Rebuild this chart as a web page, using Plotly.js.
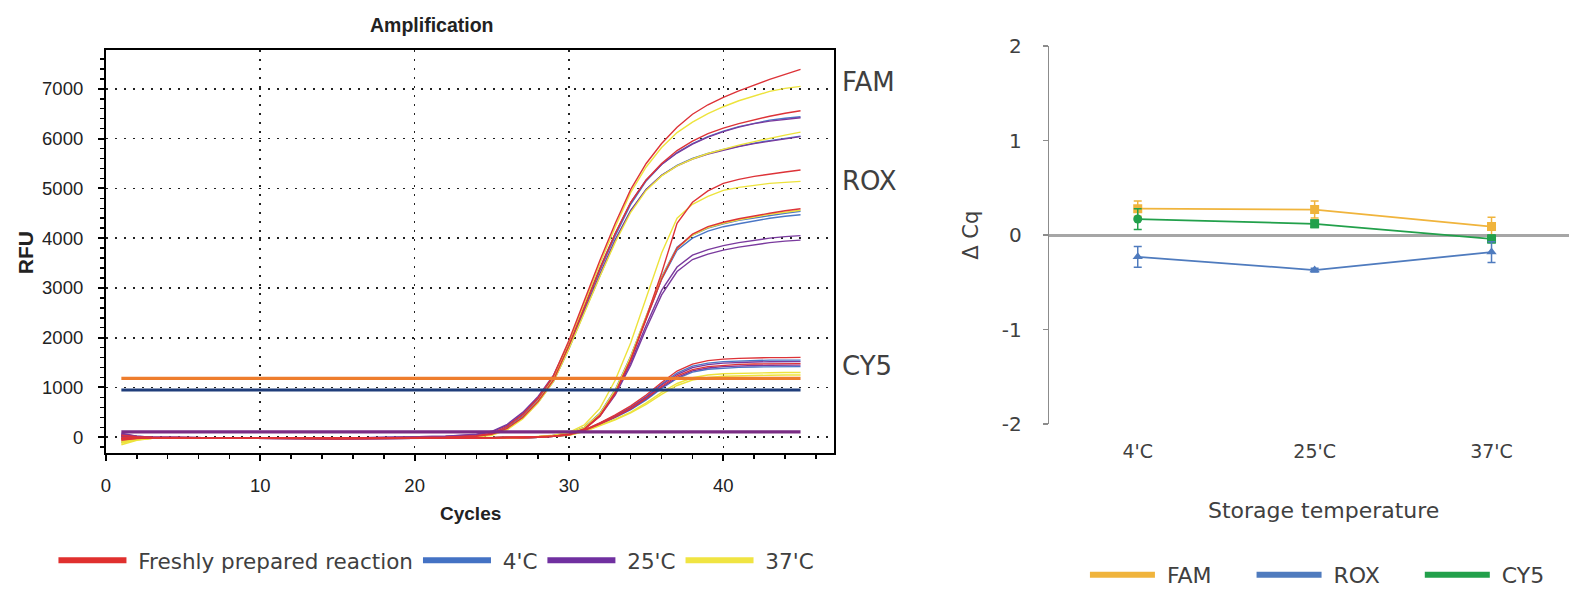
<!DOCTYPE html>
<html>
<head>
<meta charset="utf-8">
<script src="https://cdn.plot.ly/plotly-3.0.1.min.js"></script>
<style>
html,body{margin:0;padding:0;background:#fff;}
#chart{width:1585px;height:596px;}
</style>
</head>
<body>
<div id="chart"></div>
<script>
// ---------- Amplification plot data ----------
const CYCLES = [1,2,3,5,10,15,20,22,24,25,26,27,28,29,30,31,32,33,34,35,36,37,38,39,40,41,42,43,44,45];
const CONDITIONS = ["Freshly prepared reaction", "4'C", "25'C", "37'C"];

// FAM
const FAM_FRESH_1 = [-60,-20,-10,-10,-20,-20,-10,0,30,80,220,460,790,1240,1950,2750,3550,4300,4980,5500,5900,6230,6490,6680,6830,6960,7080,7190,7290,7390];
const FAM_FRESH_2 = [40,10,0,-10,-20,-20,-10,0,20,60,180,400,720,1150,1850,2620,3380,4100,4720,5170,5500,5760,5950,6100,6210,6300,6380,6450,6510,6560];
const FAM_4C_1 = [-100,-30,-10,-10,-20,-20,-10,0,25,70,200,430,740,1170,1850,2600,3350,4050,4680,5150,5480,5720,5900,6040,6150,6240,6310,6370,6410,6440];
const FAM_4C_2 = [20,0,-10,-10,-20,-20,-10,0,20,60,170,390,700,1120,1780,2520,3250,3950,4550,4980,5260,5460,5600,5700,5780,5850,5910,5960,6010,6050];
const FAM_25C_1 = [80,20,0,-10,-20,-20,0,20,60,120,260,500,820,1250,1900,2650,3400,4100,4720,5170,5480,5710,5890,6030,6140,6230,6300,6350,6390,6420];
const FAM_25C_2 = [60,20,0,-10,-20,-20,0,20,50,110,240,470,780,1200,1820,2550,3280,3970,4560,4980,5260,5450,5590,5690,5770,5840,5900,5950,6000,6040];
const FAM_37C_1 = [-150,-60,-20,-20,-30,-30,-20,-10,10,50,170,400,730,1180,1880,2680,3480,4230,4920,5430,5820,6120,6330,6500,6640,6760,6860,6950,7010,7050];
const FAM_37C_2 = [-120,-50,-20,-20,-30,-30,-20,-10,10,40,150,370,690,1120,1780,2500,3230,3920,4520,4960,5250,5450,5590,5700,5790,5870,5940,6010,6070,6130];

// ROX
const ROX_FRESH_1 = [-40,-20,-10,-10,-20,-30,-20,-20,-20,-20,-20,-10,0,20,60,160,420,880,1560,2400,3300,4300,4720,4950,5100,5180,5240,5290,5330,5370];
const ROX_FRESH_2 = [-30,-20,-10,-10,-20,-30,-20,-20,-20,-20,-20,-10,0,20,60,170,440,900,1560,2380,3180,3800,4080,4230,4320,4390,4450,4500,4550,4590];
const ROX_4C_1 = [-20,-10,-10,-10,-20,-30,-20,-20,-20,-20,-20,-10,0,30,80,200,480,960,1630,2440,3220,3820,4060,4200,4290,4360,4410,4460,4500,4540];
const ROX_4C_2 = [10,0,-10,-10,-20,-30,-20,-20,-20,-20,-20,-10,0,30,80,200,470,940,1600,2400,3170,3760,4000,4140,4230,4290,4350,4400,4440,4470];
const ROX_25C_1 = [30,10,0,-10,-20,-30,-20,-20,-20,-20,-20,-10,0,30,70,180,440,880,1500,2250,2950,3420,3660,3770,3850,3910,3960,4000,4030,4050];
const ROX_25C_2 = [50,10,0,-10,-20,-30,-20,-20,-20,-20,-20,-10,0,30,70,170,420,850,1450,2180,2860,3330,3570,3680,3760,3820,3870,3910,3940,3960];
const ROX_37C_1 = [-100,-40,-20,-20,-30,-30,-20,-20,-20,-20,-20,-10,10,40,100,250,580,1150,1900,2780,3700,4400,4680,4840,4960,5020,5060,5100,5120,5140];
const ROX_37C_2 = [-80,-30,-20,-20,-30,-30,-20,-20,-20,-20,-20,-10,0,30,80,200,470,950,1620,2430,3200,3800,4060,4210,4300,4370,4430,4480,4520,4560];

// CY5
const CY5_FRESH_1 = [-20,-10,-10,-10,-20,-20,-20,-20,-10,-10,0,0,10,20,50,150,290,450,630,850,1100,1330,1470,1540,1570,1585,1595,1600,1600,1605];
const CY5_FRESH_2 = [0,-10,-10,-10,-20,-20,-20,-20,-10,-10,0,0,10,20,50,135,265,415,580,785,1020,1230,1360,1420,1450,1465,1472,1478,1480,1480];
const CY5_4C_1 = [-30,-20,-10,-10,-20,-20,-20,-20,-10,-10,0,0,10,20,50,140,280,430,600,820,1070,1290,1430,1490,1520,1535,1545,1550,1550,1550];
const CY5_4C_2 = [10,0,-10,-10,-20,-20,-20,-20,-10,-10,0,0,10,20,45,130,255,400,555,750,980,1180,1310,1365,1390,1405,1412,1418,1420,1420];
const CY5_25C_1 = [40,10,0,-10,-20,-20,-20,-20,-10,-10,0,0,10,20,50,140,275,425,595,805,1050,1260,1400,1460,1490,1505,1512,1518,1520,1520];
const CY5_25C_2 = [20,0,-10,-10,-20,-20,-20,-20,-10,-10,0,0,10,20,45,130,260,405,565,770,1000,1200,1335,1390,1420,1435,1442,1448,1450,1450];
const CY5_37C_1 = [-60,-30,-20,-20,-30,-30,-20,-20,-10,-10,0,0,10,20,45,120,235,365,505,690,900,1080,1195,1250,1275,1287,1293,1297,1300,1300];
const CY5_37C_2 = [-40,-20,-20,-20,-30,-30,-20,-20,-10,-10,0,0,10,20,40,115,225,350,490,660,860,1040,1150,1200,1225,1237,1243,1247,1250,1250];

// thresholds
const THRESHOLD_CYCLES = [1, 45];
const THRESHOLD_FAM = 1185;
const THRESHOLD_ROX = 950;
const THRESHOLD_CY5 = 110;
const DYE_LABELS = ["FAM", "ROX", "CY5"];
const DYE_LABEL_RFU = [7130, 5140, 1440];

// ---------- ΔCq plot data ----------
const TEMPS = ["4'C", "25'C", "37'C"];
const FAM_DCQ = [0.28, 0.27, 0.09];
const FAM_ERR = [0.08, 0.09, 0.10];
const ROX_DCQ = [-0.23, -0.37, -0.18];
const ROX_ERR = [0.11, 0.02, 0.11];
const CY5_DCQ = [0.17, 0.12, -0.04];
const CY5_ERR = [0.11, 0.04, 0.04];
const DCQ_TICKS = [-2, -1, 0, 1, 2];
const DCQ_TICK_TEXT = ["-2", "-1", "0", "1", "2"];

// ---------- styles ----------
const COND_COLORS = {fresh:'#DD3338', c4:'#4A76C6', c25:'#7A3A9E', c37:'#EDE33C'};
const LEG_COLORS = ['#E0302E', '#4472C4', '#7030A0', '#F0E442'];
const DYE_COLORS = {FAM:'#F0B43C', ROX:'#4F7BBE', CY5:'#22A04B'};
const NB = '\u00A0';

const traces = [];
function curve(y, color) {
  traces.push({x: CYCLES, y: y, type:'scatter', mode:'lines', line:{color: color, width:1.4},
    xaxis:'x', yaxis:'y', showlegend:false, hoverinfo:'skip'});
}
const groups = [
  [[FAM_4C_1, FAM_4C_2, ROX_4C_1, ROX_4C_2, CY5_4C_1, CY5_4C_2], COND_COLORS.c4],
  [[FAM_25C_1, FAM_25C_2, ROX_25C_1, ROX_25C_2, CY5_25C_1, CY5_25C_2], COND_COLORS.c25],
  [[FAM_37C_1, FAM_37C_2, ROX_37C_1, ROX_37C_2, CY5_37C_1, CY5_37C_2], COND_COLORS.c37],
  [[FAM_FRESH_1, FAM_FRESH_2, ROX_FRESH_1, ROX_FRESH_2, CY5_FRESH_1, CY5_FRESH_2], COND_COLORS.fresh]
];
groups.forEach(g => g[0].forEach(arr => curve(arr, g[1])));

// threshold lines
[[THRESHOLD_CY5,'#7A2C84'],[THRESHOLD_ROX,'#1F3D7A'],[THRESHOLD_FAM,'#EE7D2D']].forEach(t => {
  traces.push({x: THRESHOLD_CYCLES, y:[t[0], t[0]], type:'scatter', mode:'lines',
    line:{color:t[1], width:3.2}, xaxis:'x', yaxis:'y', showlegend:false, hoverinfo:'skip'});
});

// left legend entries
CONDITIONS.forEach((name, i) => {
  traces.push({x:[null], y:[null], type:'scatter', mode:'lines', name: NB + name,
    line:{color: LEG_COLORS[i], width:6}, xaxis:'x', yaxis:'y', legend:'legend', showlegend:true});
});

// right chart
[[FAM_DCQ, FAM_ERR, 'FAM', 'square'], [CY5_DCQ, CY5_ERR, 'CY5', ['circle','square','square']], [ROX_DCQ, ROX_ERR, 'ROX', 'triangle-up']].forEach(s => {
  const c = DYE_COLORS[s[2]];
  traces.push({x: TEMPS, y: s[0], type:'scatter', mode:'lines+markers', name: s[2],
    line:{color:c, width:1.8}, marker:{color:c, size:9, symbol:s[3]},
    error_y:{type:'data', array:s[1], visible:true, color:c, thickness:1.5, width:4},
    xaxis:'x2', yaxis:'y2', showlegend:false, hoverinfo:'skip'});
});
DYE_LABELS.forEach(n => {
  traces.push({x:[null], y:[null], type:'scatter', mode:'lines', name: NB + n + NB.repeat(5),
    line:{color:DYE_COLORS[n], width:6}, xaxis:'x2', yaxis:'y2', legend:'legend2', showlegend:true});
});

const W = 1585, H = 596;
const px = v => v / W, py = v => 1 - v / H;
const LEFT_FONT = 'Liberation Sans, Arial, sans-serif';
const RIGHT_FONT = 'DejaVu Sans, sans-serif';

const xRange = [0, 47.2], yRange = [-324, 7770];
const commonX = {domain:[px(107), px(843)], range:xRange, anchor:'y', tick0:0, dtick:10,
  ticklen:6, tickwidth:2, tickcolor:'#000', showline:true, linecolor:'#000', linewidth:2, zeroline:false};
const commonY = {domain:[py(458), py(51)], range:yRange, anchor:'x', tick0:0, dtick:1000,
  ticklen:6, tickwidth:2, tickcolor:'#000', showline:true, linecolor:'#000', linewidth:2, zeroline:false};

const layout = {
  width: W, height: H,
  margin:{l:0, r:0, t:0, b:0},
  paper_bgcolor:'#ffffff', plot_bgcolor:'rgba(0,0,0,0)',
  showlegend:true,
  xaxis:Object.assign({}, commonX, {ticks:'outside', mirror:true,
    showgrid:true, gridcolor:'#222', griddash:'2px,7px', gridwidth:1.6,
    minor:{ticks:'outside', dtick:2, tick0:0, ticklen:4, tickwidth:1.5, tickcolor:'#000', showgrid:false},
    tickfont:{family:LEFT_FONT, size:18.5, color:'#222'}, ticklabelstandoff:8}),
  xaxis3:Object.assign({}, commonX, {overlaying:'x', ticks:'inside', mirror:'allticks',
    showgrid:false, showticklabels:false,
    minor:{ticks:'inside', dtick:2, tick0:0, ticklen:4, tickwidth:1.5, tickcolor:'#000', showgrid:false}}),
  yaxis:Object.assign({}, commonY, {ticks:'outside', mirror:true,
    showgrid:true, gridcolor:'#222', griddash:'2px,7px', gridwidth:1.6,
    minor:{ticks:'outside', dtick:200, tick0:0, ticklen:4, tickwidth:1.5, tickcolor:'#000', showgrid:false},
    tickfont:{family:LEFT_FONT, size:18.5, color:'#222'}, ticklabelstandoff:11}),
  yaxis3:Object.assign({}, commonY, {overlaying:'y', ticks:'inside', mirror:'allticks',
    showgrid:false, showticklabels:false,
    minor:{ticks:'inside', dtick:200, tick0:0, ticklen:4, tickwidth:1.5, tickcolor:'#000', showgrid:false}}),
  xaxis2:{domain:[px(1060), 1], range:[-0.5, 2.438], anchor:'y2', type:'category',
    showline:false, ticks:'', showgrid:false, zeroline:false,
    tickfont:{family:RIGHT_FONT, size:19, color:'#404040'}, ticklabelstandoff:14},
  xaxis4:{domain:[px(1060), 1], range:[-0.5, 2.438], anchor:'free', position:py(238.3), overlaying:'x2',
    tickvals:[0.5, 1.5], ticks:'outside', ticklen:5, tickwidth:1.5, tickcolor:'#A0A0A0',
    showline:false, showgrid:false, zeroline:false, showticklabels:false},
  yaxis2:{domain:[py(428.3), py(46.7)], range:[-2, 2], anchor:'x2', tickvals:DCQ_TICKS, ticktext:DCQ_TICK_TEXT,
    showline:true, linecolor:'#8C8C8C', linewidth:1.5, ticks:'outside', ticklen:5, tickwidth:1.5, tickcolor:'#8C8C8C',
    showgrid:false, zeroline:true, zerolinecolor:'#A6A6A6', zerolinewidth:3,
    tickfont:{family:RIGHT_FONT, size:20, color:'#404040'}, ticklabelstandoff:17},
  legend:{orientation:'h', x:px(54), xanchor:'left', y:py(566), yanchor:'middle',
    font:{family:RIGHT_FONT, size:21.5, color:'#404040'}, itemwidth:68, bgcolor:'rgba(0,0,0,0)',
    itemclick:false, itemdoubleclick:false},
  legend2:{orientation:'h', x:px(1096), xanchor:'left', y:py(581), yanchor:'middle',
    font:{family:RIGHT_FONT, size:22, color:'#404040'}, itemwidth:65, bgcolor:'rgba(0,0,0,0)',
    itemclick:false, itemdoubleclick:false},
  annotations:[
    {text:'<b>Amplification</b>', xref:'paper', yref:'paper', x:px(436), y:py(25), xanchor:'center', yanchor:'middle', showarrow:false,
      font:{family:LEFT_FONT, size:19.5, color:'#222'}},
    {text:'<b>RFU</b>', xref:'paper', yref:'paper', x:px(26), y:py(255), xanchor:'center', yanchor:'middle', showarrow:false, textangle:-90,
      font:{family:LEFT_FONT, size:21, color:'#222'}},
    {text:'<b>Cycles</b>', xref:'paper', yref:'paper', x:px(475), y:py(519), xanchor:'center', yanchor:'middle', showarrow:false,
      font:{family:LEFT_FONT, size:19, color:'#222'}},
    {text:'Storage temperature', xref:'paper', yref:'paper', x:px(1337), y:py(516), xanchor:'center', yanchor:'middle', showarrow:false,
      font:{family:RIGHT_FONT, size:22, color:'#404040'}},
    {text:'Δ Cq', xref:'paper', yref:'paper', x:px(980), y:py(238), xanchor:'center', yanchor:'middle', showarrow:false, textangle:-90,
      font:{family:RIGHT_FONT, size:21, color:'#404040'}}
  ].concat(DYE_LABELS.map((t, i) => ({text:t, xref:'paper', yref:'y', x:px(849), xanchor:'left', yanchor:'middle', y:DYE_LABEL_RFU[i],
      showarrow:false, font:{family:RIGHT_FONT, size:26, color:'#404040'}})))
};

Plotly.newPlot('chart', traces, layout, {displayModeBar:false, staticPlot:true});
</script>
</body>
</html>
